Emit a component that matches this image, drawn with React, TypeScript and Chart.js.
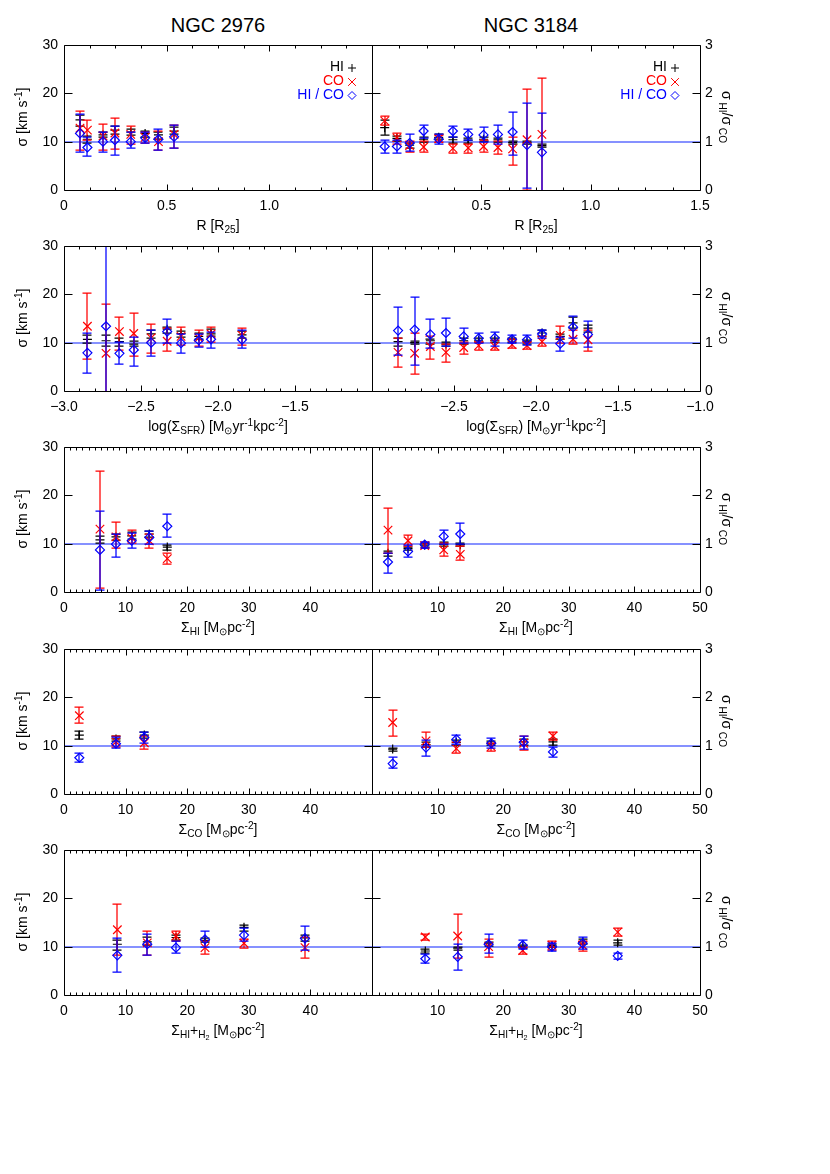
import React, { useEffect, useRef } from 'react';
import { Chart, registerables } from 'chart.js';

Chart.register(...registerables);

type T3 = [number, number, number]; // value, lower, upper

// ---------------- Row 1: R [R25] ----------------
const R_2976_X = [0.078, 0.114, 0.19, 0.248, 0.325, 0.395, 0.46, 0.536];
const R_2976_HI: T3[] = [[14.5, 13.2, 15.6], [10.5, 9.8, 11.2], [11.4, 10.9, 12.0], [12.4, 11.5, 13.3], [12.0, 11.4, 12.6], [11.7, 11.0, 12.2], [11.4, 10.6, 11.9], [12.2, 11.5, 13.0]];
const R_2976_CO: T3[] = [[12.8, 8.3, 16.3], [12.4, 10.3, 14.4], [11.2, 8.3, 13.6], [11.8, 8.4, 14.9], [11.5, 9.6, 13.3], [10.9, 9.8, 12.0], [10.0, 8.2, 12.3], [11.5, 8.6, 13.5]];
const R_2976_RATIO: T3[] = [[1.17, 0.78, 1.58], [0.88, 0.71, 1.1], [1.0, 0.78, 1.2], [1.03, 0.72, 1.33], [1.0, 0.86, 1.2], [1.08, 0.97, 1.2], [1.05, 0.83, 1.26], [1.1, 0.86, 1.34]];

const R_3184_X = [0.058, 0.114, 0.172, 0.236, 0.305, 0.37, 0.44, 0.51, 0.576, 0.643, 0.709, 0.777];
const R_3184_HI: T3[] = [[12.9, 11.4, 14.4], [10.7, 10.2, 11.2], [9.3, 8.6, 9.8], [10.5, 10.0, 11.0], [10.9, 10.5, 11.5], [10.4, 9.8, 10.9], [10.3, 9.7, 10.7], [10.5, 10.1, 10.9], [10.4, 10.0, 10.8], [9.8, 9.5, 10.1], [9.8, 9.5, 10.1], [9.2, 8.9, 9.5]];
const R_3184_CO: T3[] = [[14.3, 13.4, 15.3], [10.8, 9.6, 11.8], [9.2, 7.9, 10.1], [8.9, 7.9, 10.2], [10.6, 10.0, 11.3], [8.6, 7.7, 9.5], [8.7, 7.7, 9.6], [9.0, 7.9, 10.4], [8.8, 7.4, 10.2], [8.5, 5.2, 11.0], [10.4, 0.0, 20.8], [11.5, -0.2, 23.2]];
const R_3184_RATIO: T3[] = [[0.9, 0.77, 1.03], [0.9, 0.77, 1.03], [0.97, 0.8, 1.15], [1.22, 1.08, 1.35], [1.05, 0.96, 1.15], [1.22, 1.1, 1.33], [1.15, 1.03, 1.27], [1.14, 1.0, 1.3], [1.15, 0.95, 1.35], [1.2, 0.72, 1.62], [0.93, 0.05, 1.8], [0.78, -0.2, 1.6]];

// ---------------- Row 2: log(Sigma_SFR) ----------------
const SFR_2976_X = [-2.848, -2.727, -2.64, -2.547, -2.434, -2.33, -2.24, -2.125, -2.045, -1.844];
const SFR_2976_HI: T3[] = [[10.7, 10.0, 11.5], [10.4, 9.4, 11.5], [10.2, 9.3, 10.9], [9.7, 9.3, 10.4], [11.8, 11.0, 12.6], [12.8, 12.1, 13.3], [11.9, 11.2, 12.5], [11.3, 10.8, 11.9], [11.8, 11.3, 12.8], [11.6, 11.0, 12.5]];
const SFR_2976_CO: T3[] = [[13.4, 6.6, 20.3], [7.8, -2.3, 17.9], [12.3, 8.5, 15.3], [11.9, 7.3, 16.2], [11.0, 7.9, 13.8], [10.3, 8.3, 13.0], [11.3, 9.5, 13.3], [11.0, 9.4, 12.6], [11.8, 10.2, 13.2], [11.5, 9.5, 13.0]];
const SFR_2976_RATIO: T3[] = [[0.79, 0.38, 1.19], [1.34, -2.0, 4.7], [0.78, 0.56, 1.02], [0.85, 0.52, 1.12], [1.0, 0.73, 1.27], [1.23, 0.99, 1.48], [0.99, 0.78, 1.18], [1.05, 0.91, 1.17], [1.07, 0.89, 1.23], [1.06, 0.89, 1.26]];

const SFR_3184_X = [-2.841, -2.74, -2.644, -2.549, -2.441, -2.35, -2.252, -2.146, -2.055, -1.963, -1.852, -1.774, -1.683];
const SFR_3184_HI: T3[] = [[10.2, 9.3, 10.9], [10.0, 9.7, 10.3], [10.4, 9.8, 10.8], [9.7, 9.3, 10.2], [10.4, 9.8, 11.0], [10.5, 10.1, 10.9], [10.5, 10.1, 10.9], [10.6, 10.2, 11.0], [10.2, 9.8, 10.6], [12.0, 11.3, 12.6], [11.3, 10.8, 11.8], [14.1, 13.1, 15.3], [13.0, 12.3, 13.6]];
const SFR_3184_CO: T3[] = [[8.0, 5.0, 11.0], [7.8, 3.5, 12.0], [9.2, 6.6, 11.3], [8.0, 6.0, 9.7], [9.0, 7.7, 10.2], [9.4, 8.5, 10.2], [9.3, 8.5, 10.6], [9.6, 8.9, 10.7], [9.4, 8.6, 10.2], [10.2, 9.4, 11.3], [11.5, 9.9, 13.4], [10.7, 9.7, 12.7], [10.6, 8.3, 12.7]];
const SFR_3184_RATIO: T3[] = [[1.25, 0.75, 1.73], [1.27, 0.54, 1.95], [1.17, 0.89, 1.48], [1.2, 0.93, 1.51], [1.13, 0.99, 1.31], [1.09, 0.99, 1.21], [1.1, 0.93, 1.23], [1.07, 0.99, 1.16], [1.06, 0.96, 1.16], [1.18, 1.1, 1.26], [0.98, 0.82, 1.12], [1.32, 1.09, 1.55], [1.17, 0.92, 1.45]];

// ---------------- Row 3: Sigma_HI ----------------
const SHI_2976_X = [5.84, 8.44, 10.99, 13.85, 16.77];
const SHI_2976_HI: T3[] = [[10.8, 10.2, 11.5], [11.4, 10.7, 12.1], [11.6, 11.0, 12.4], [12.0, 11.4, 12.6], [9.3, 8.7, 9.7]];
const SHI_2976_CO: T3[] = [[13.0, 0.9, 25.1], [11.4, 9.1, 14.5], [11.2, 10.1, 12.8], [10.6, 9.2, 12.1], [6.9, 5.8, 8.0]];
const SHI_2976_RATIO: T3[] = [[0.87, 0.05, 1.67], [0.99, 0.73, 1.21], [1.06, 0.91, 1.22], [1.13, 1.0, 1.27], [1.36, 1.14, 1.61]];

const SHI_3184_X = [2.44, 5.49, 8.03, 10.93, 13.46];
const SHI_3184_HI: T3[] = [[8.0, 7.5, 8.4], [9.0, 8.6, 9.4], [9.7, 9.3, 10.1], [9.9, 9.6, 10.3], [9.8, 9.5, 10.1]];
const SHI_3184_CO: T3[] = [[12.8, 8.0, 17.3], [10.6, 9.5, 11.8], [9.6, 9.1, 10.3], [8.7, 7.5, 10.1], [7.8, 6.6, 9.5]];
const SHI_3184_RATIO: T3[] = [[0.62, 0.39, 0.8], [0.84, 0.73, 0.97], [0.98, 0.91, 1.04], [1.15, 1.0, 1.28], [1.2, 1.0, 1.43]];

// ---------------- Row 4: Sigma_CO ----------------
const SCO_2976_X = [2.49, 8.44, 13.04];
const SCO_2976_HI: T3[] = [[12.2, 11.3, 13.1], [11.4, 10.9, 12.0], [12.2, 11.6, 12.8]];
const SCO_2976_CO: T3[] = [[16.2, 14.6, 17.9], [10.8, 9.7, 11.9], [10.6, 9.3, 11.9]];
const SCO_2976_RATIO: T3[] = [[0.75, 0.66, 0.85], [1.04, 0.95, 1.17], [1.17, 1.05, 1.28]];

const SCO_3184_X = [3.15, 8.23, 12.86, 18.19, 23.12, 27.59];
const SCO_3184_HI: T3[] = [[9.3, 9.0, 9.6], [10.2, 9.8, 10.7], [10.7, 10.2, 11.2], [10.5, 10.1, 10.9], [10.8, 10.1, 11.4], [10.8, 10.1, 11.3]];
const SCO_3184_CO: T3[] = [[14.8, 12.1, 17.4], [11.0, 9.8, 12.9], [9.4, 8.5, 10.7], [9.8, 9.0, 10.6], [10.5, 9.2, 11.9], [12.0, 11.1, 12.9]];
const SCO_3184_RATIO: T3[] = [[0.63, 0.53, 0.76], [0.96, 0.79, 1.12], [1.13, 1.03, 1.23], [1.05, 0.95, 1.15], [1.07, 0.93, 1.21], [0.87, 0.77, 0.98]];

// ---------------- Row 5: Sigma_HI+H2 ----------------
const SGAS_2976_X = [8.66, 13.52, 18.18, 22.89, 29.22, 39.12];
const SGAS_2976_HI: T3[] = [[10.5, 9.4, 11.4], [11.0, 10.4, 11.9], [11.9, 11.4, 12.5], [11.3, 10.9, 11.8], [14.0, 13.3, 14.5], [11.8, 11.2, 12.4]];
const SGAS_2976_CO: T3[] = [[13.5, 8.2, 18.9], [10.8, 8.3, 13.3], [12.2, 11.2, 13.3], [9.8, 8.4, 11.1], [10.7, 9.8, 11.6], [9.8, 7.7, 11.9]];
const SGAS_2976_RATIO: T3[] = [[0.82, 0.47, 1.17], [1.05, 0.83, 1.27], [0.98, 0.86, 1.12], [1.15, 0.99, 1.33], [1.24, 1.12, 1.38], [1.17, 0.93, 1.43]];

const SGAS_3184_X = [8.13, 13.06, 17.78, 22.97, 27.44, 32.11, 37.45];
const SGAS_3184_HI: T3[] = [[9.1, 8.6, 9.6], [9.7, 9.4, 10.0], [10.6, 10.2, 11.0], [10.0, 9.7, 10.3], [10.2, 9.9, 10.5], [11.0, 10.6, 11.6], [10.8, 10.3, 11.4]];
const SGAS_3184_CO: T3[] = [[12.0, 11.3, 12.7], [12.2, 7.7, 16.7], [10.0, 7.9, 11.5], [9.2, 8.5, 9.9], [10.3, 9.3, 11.2], [10.3, 9.1, 11.2], [13.0, 12.3, 13.8]];
const SGAS_3184_RATIO: T3[] = [[0.75, 0.67, 0.84], [0.79, 0.51, 1.05], [1.05, 0.86, 1.27], [1.03, 0.95, 1.13], [1.0, 0.92, 1.08], [1.07, 0.95, 1.2], [0.81, 0.74, 0.87]];

// ---------------- Axes ----------------
const Y_TICKS = [0, 10, 20, 30];
const Y2_TICKS = [0, 1, 2, 3];
const R_TICKS_L = [0, 0.5, 1.0];
const R_TICKS_R = [0.5, 1.0, 1.5];
const R_MAJOR = [0, 0.5, 1.0, 1.5];
const LOG_TICKS_L = [-3.0, -2.5, -2.0, -1.5];
const LOG_TICKS_R = [-2.5, -2.0, -1.5, -1.0];
const LOG_MAJOR = [-3.0, -2.5, -2.0, -1.5, -1.0];
const S_TICKS_L = [0, 10, 20, 30, 40];
const S_TICKS_R = [10, 20, 30, 40, 50];
const S_MAJOR = [0, 10, 20, 30, 40, 50];

const FONT = '"Liberation Sans", Arial, Helvetica, sans-serif';
const ROW_TOPS = [45, 246, 447, 649, 850];
const PLOT_H = 145;
const PAD_TOP = 16;

const fmtR = (v: number) => (v === 0 ? '0' : v.toFixed(1));
const fmtLog = (v: number) => v.toFixed(1).replace('-', '\u2212');
const fmtS = (v: number) => String(Math.round(v));

type RowAxis = { min: number; max: number; major: number[]; minor: number; ticksL: number[]; ticksR: number[]; fmt: (v: number) => string };
const ROW_AXES: RowAxis[] = [
  { min: 0, max: 1.5, major: R_MAJOR, minor: 0.125, ticksL: R_TICKS_L, ticksR: R_TICKS_R, fmt: fmtR },
  { min: -3, max: -1, major: LOG_MAJOR, minor: 0.1, ticksL: LOG_TICKS_L, ticksR: LOG_TICKS_R, fmt: fmtLog },
  { min: 0, max: 50, major: S_MAJOR, minor: 1, ticksL: S_TICKS_L, ticksR: S_TICKS_R, fmt: fmtS },
  { min: 0, max: 50, major: S_MAJOR, minor: 1, ticksL: S_TICKS_L, ticksR: S_TICKS_R, fmt: fmtS },
  { min: 0, max: 50, major: S_MAJOR, minor: 1, ticksL: S_TICKS_L, ticksR: S_TICKS_R, fmt: fmtS },
];

type Panel = { row: number; left: boolean; xs: number[]; hi: T3[]; co: T3[]; ratio: T3[] };
const PANELS: Panel[] = [
  { row: 0, left: true, xs: R_2976_X, hi: R_2976_HI, co: R_2976_CO, ratio: R_2976_RATIO },
  { row: 0, left: false, xs: R_3184_X, hi: R_3184_HI, co: R_3184_CO, ratio: R_3184_RATIO },
  { row: 1, left: true, xs: SFR_2976_X, hi: SFR_2976_HI, co: SFR_2976_CO, ratio: SFR_2976_RATIO },
  { row: 1, left: false, xs: SFR_3184_X, hi: SFR_3184_HI, co: SFR_3184_CO, ratio: SFR_3184_RATIO },
  { row: 2, left: true, xs: SHI_2976_X, hi: SHI_2976_HI, co: SHI_2976_CO, ratio: SHI_2976_RATIO },
  { row: 2, left: false, xs: SHI_3184_X, hi: SHI_3184_HI, co: SHI_3184_CO, ratio: SHI_3184_RATIO },
  { row: 3, left: true, xs: SCO_2976_X, hi: SCO_2976_HI, co: SCO_2976_CO, ratio: SCO_2976_RATIO },
  { row: 3, left: false, xs: SCO_3184_X, hi: SCO_3184_HI, co: SCO_3184_CO, ratio: SCO_3184_RATIO },
  { row: 4, left: true, xs: SGAS_2976_X, hi: SGAS_2976_HI, co: SGAS_2976_CO, ratio: SGAS_2976_RATIO },
  { row: 4, left: false, xs: SGAS_3184_X, hi: SGAS_3184_HI, co: SGAS_3184_CO, ratio: SGAS_3184_RATIO },
];

const LEGEND = [
  { text: 'HI', color: '#000000', shape: 'cross' },
  { text: 'CO', color: '#ff0000', shape: 'crossRot' },
  { text: 'HI / CO', color: '#0000ff', shape: 'rectRot' },
];

function drawShape(ctx: CanvasRenderingContext2D, shape: string, x: number, y: number, r: number) {
  ctx.beginPath();
  if (shape === 'cross') {
    ctx.moveTo(x - r, y); ctx.lineTo(x + r, y); ctx.moveTo(x, y - r); ctx.lineTo(x, y + r);
  } else if (shape === 'crossRot') {
    const d = r * Math.SQRT1_2;
    ctx.moveTo(x - d, y - d); ctx.lineTo(x + d, y + d); ctx.moveTo(x + d, y - d); ctx.lineTo(x - d, y + d);
  } else {
    ctx.moveTo(x - r, y); ctx.lineTo(x, y - r); ctx.lineTo(x + r, y); ctx.lineTo(x, y + r); ctx.closePath();
  }
  ctx.stroke();
}

const errorBarPlugin = {
  id: 'errorBars',
  beforeDatasetsDraw(chart: any) {
    const { ctx, chartArea: a } = chart;
    const y = Math.round(chart.scales.y2.getPixelForValue(1));
    ctx.save();
    ctx.strokeStyle = 'rgba(40,60,255,0.75)';
    ctx.lineWidth = 1.6;
    ctx.beginPath(); ctx.moveTo(a.left, y); ctx.lineTo(a.right, y); ctx.stroke();
    ctx.restore();
  },
  beforeDatasetDraw(chart: any, args: any) {
    const { ctx, chartArea: a } = chart;
    const meta = args.meta;
    const ds = chart.data.datasets[args.index];
    const ys = chart.scales[meta.yAxisID];
    ctx.save();
    ctx.beginPath(); ctx.rect(a.left, a.top, a.right - a.left, a.bottom - a.top); ctx.clip();
    ctx.strokeStyle = ds.borderColor;
    ctx.lineWidth = 1.25;
    meta.data.forEach((pt: any, i: number) => {
      const d = ds.data[i];
      const x = Math.round(pt.x);
      const y1 = Math.round(ys.getPixelForValue(d.lo));
      const y2 = Math.round(ys.getPixelForValue(d.hi));
      ctx.beginPath();
      ctx.moveTo(x, y1); ctx.lineTo(x, y2);
      ctx.moveTo(x - 4.5, y1); ctx.lineTo(x + 4.5, y1);
      ctx.moveTo(x - 4.5, y2); ctx.lineTo(x + 4.5, y2);
      ctx.stroke();
    });
    ctx.restore();
  },
};

const framePlugin = {
  id: 'frame',
  afterDraw(chart: any, _args: any, opts: any) {
    const { ctx, chartArea: a } = chart;
    const xs = chart.scales.x;
    const ys = chart.scales.y;
    const L = Math.round(a.left) + 0.5, R = Math.round(a.right) + 0.5;
    const T = Math.round(a.top) + 0.5, B = Math.round(a.bottom) + 0.5;
    ctx.save();
    ctx.strokeStyle = '#000';
    ctx.lineWidth = 1;
    ctx.beginPath();
    ctx.moveTo(L, T); ctx.lineTo(R, T); ctx.lineTo(R, B); ctx.lineTo(L, B); ctx.closePath();
    [10, 20].forEach((v) => {
      const y = Math.round(ys.getPixelForValue(v)) + 0.5;
      ctx.moveTo(L, y); ctx.lineTo(L + 8, y);
      ctx.moveTo(R, y); ctx.lineTo(R - 8, y);
    });
    const ax: RowAxis = opts.axis;
    const n = Math.round((ax.max - ax.min) / ax.minor);
    for (let i = 0; i <= n; i++) {
      const v = ax.min + i * ax.minor;
      const isMajor = ax.major.some((m) => Math.abs(m - v) < ax.minor / 10);
      const len = isMajor ? 6 : 3;
      const x = Math.round(xs.getPixelForValue(v)) + 0.5;
      ctx.moveTo(x, B); ctx.lineTo(x, B - len);
      ctx.moveTo(x, T); ctx.lineTo(x, T + len);
    }
    ctx.stroke();
    if (opts.legend) {
      const sx = a.right - opts.legendOffset;
      ctx.font = `14px ${FONT}`;
      ctx.textAlign = 'right';
      ctx.textBaseline = 'middle';
      const dy = [22.5, 36.5, 50];
      LEGEND.forEach((e, i) => {
        const y = a.top + dy[i];
        ctx.fillStyle = e.color;
        ctx.strokeStyle = e.color;
        ctx.fillText(e.text, sx - 8, y);
        drawShape(ctx, e.shape, sx, y + 0.5, e.shape === 'crossRot' ? 5.5 : 4);
      });
    }
    ctx.restore();
  },
};

function PanelChart({ p }: { p: Panel }) {
  const ref = useRef<HTMLCanvasElement>(null);
  const W = p.left ? 380 : 466;
  const H = PLOT_H + PAD_TOP + 30;
  useEffect(() => {
    const ax = ROW_AXES[p.row];
    const pts = (v: T3[]) => p.xs.map((x, i) => ({ x, y: v[i][0], lo: v[i][1], hi: v[i][2] }));
    const tickFont = { family: FONT, size: 14 };
    const chart = new Chart(ref.current as HTMLCanvasElement, {
      type: 'scatter',
      data: {
        datasets: [
          { label: 'HI', order: 2, data: pts(p.hi), yAxisID: 'y', pointStyle: 'cross', pointRadius: 4.5, borderColor: '#000000', backgroundColor: '#000000', borderWidth: 1.2 },
          { label: 'CO', order: 1, data: pts(p.co), yAxisID: 'y', pointStyle: 'crossRot', pointRadius: 6, borderColor: '#ff0000', backgroundColor: '#ff0000', borderWidth: 1.2 },
          { label: 'HI / CO', order: 0, data: pts(p.ratio), yAxisID: 'y2', pointStyle: 'rectRot', pointRadius: 4.5, borderColor: '#0000ff', backgroundColor: 'rgba(0,0,0,0)', borderWidth: 1.2 },
        ] as any,
      },
      options: {
        animation: false,
        responsive: false,
        devicePixelRatio: 1,
        events: [],
        layout: {
          autoPadding: false,
          padding: p.left ? { left: 0, right: 8, top: PAD_TOP, bottom: 0 } : { left: 8, right: 0, top: PAD_TOP, bottom: 0 },
        },
        plugins: {
          legend: { display: false },
          tooltip: { enabled: false },
          frame: { axis: ax, legend: p.row === 0, legendOffset: p.left ? 20 : 25 },
        } as any,
        scales: {
          x: {
            type: 'linear', position: 'bottom', min: ax.min, max: ax.max,
            grid: { display: false, drawTicks: false }, border: { display: false },
            afterBuildTicks: (s: any) => { s.ticks = (p.left ? ax.ticksL : ax.ticksR).map((v) => ({ value: v })); },
            afterFit: (s: any) => { s.height = 30; },
            ticks: { padding: 8, color: '#000', font: tickFont, autoSkip: false, maxRotation: 0, callback: (v: any) => ax.fmt(Number(v)) },
          },
          y: {
            type: 'linear', position: 'left', min: 0, max: 30, display: p.left,
            grid: { display: false, drawTicks: false }, border: { display: false },
            afterBuildTicks: (s: any) => { s.ticks = Y_TICKS.map((v) => ({ value: v })); },
            afterFit: (s: any) => { if (p.left) s.width = 64; },
            ticks: { padding: 6, color: '#000', font: tickFont, callback: (v: any) => String(v) },
          },
          y2: {
            type: 'linear', axis: 'y', position: 'right', min: 0, max: 3, display: !p.left,
            grid: { display: false, drawTicks: false }, border: { display: false },
            afterBuildTicks: (s: any) => { s.ticks = Y2_TICKS.map((v) => ({ value: v })); },
            afterFit: (s: any) => { if (!p.left) s.width = 130; },
            ticks: { padding: 5, color: '#000', font: tickFont, callback: (v: any) => String(v) },
          },
        } as any,
      } as any,
      plugins: [errorBarPlugin, framePlugin] as any,
    });
    return () => chart.destroy();
  }, [p]);
  return (
    <canvas
      ref={ref}
      width={W}
      height={H}
      style={{ position: 'absolute', left: p.left ? 0 : 364, top: ROW_TOPS[p.row] - PAD_TOP, width: W, height: H }}
    />
  );
}

const subS: React.CSSProperties = { fontSize: '0.72em', verticalAlign: '-0.3em', lineHeight: 0 };
const supS: React.CSSProperties = { fontSize: '0.72em', verticalAlign: '0.5em', lineHeight: 0 };
const Sub = ({ children }: { children: React.ReactNode }) => <span style={subS}>{children}</span>;
const Sup = ({ children }: { children: React.ReactNode }) => <span style={supS}>{children}</span>;

const X_TITLES: React.ReactNode[] = [
  <>R [R<Sub>25</Sub>]</>,
  <>log(Σ<Sub>SFR</Sub>) [M<Sub>⊙</Sub>yr<Sup>-1</Sup>kpc<Sup>-2</Sup>]</>,
  <>Σ<Sub>HI</Sub> [M<Sub>⊙</Sub>pc<Sup>-2</Sup>]</>,
  <>Σ<Sub>CO</Sub> [M<Sub>⊙</Sub>pc<Sup>-2</Sup>]</>,
  <>Σ<Sub>HI</Sub>+<Sub>H<Sub>2</Sub></Sub> [M<Sub>⊙</Sub>pc<Sup>-2</Sup>]</>,
];

const centered = (x: number, y: number, size: number, rot = 0): React.CSSProperties => ({
  position: 'absolute', left: x, top: y, transform: `translate(-50%, -50%) rotate(${rot}deg)`,
  whiteSpace: 'nowrap', fontSize: size, lineHeight: 1.2,
});

export default function App() {
  return (
    <div style={{ position: 'absolute', left: 0, top: 0, width: 830, height: 1174, background: '#fff', fontFamily: FONT, color: '#000', overflow: 'hidden' }}>
      <div style={centered(218, 25, 20)}>NGC 2976</div>
      <div style={centered(531, 25, 20)}>NGC 3184</div>
      {PANELS.map((p, i) => <PanelChart key={i} p={p} />)}
      {ROW_TOPS.map((t, r) => (
        <React.Fragment key={r}>
          <div style={centered(22, t + 72, 14, -90)}>σ [km s<Sup>-1</Sup>]</div>
          <div style={centered(727, t + 72, 14, 90)}>σ<Sub> HI</Sub>/σ<Sub> CO</Sub></div>
          <div style={centered(218, t + 180, 14)}>{X_TITLES[r]}</div>
          <div style={centered(536, t + 180, 14)}>{X_TITLES[r]}</div>
        </React.Fragment>
      ))}
    </div>
  );
}
